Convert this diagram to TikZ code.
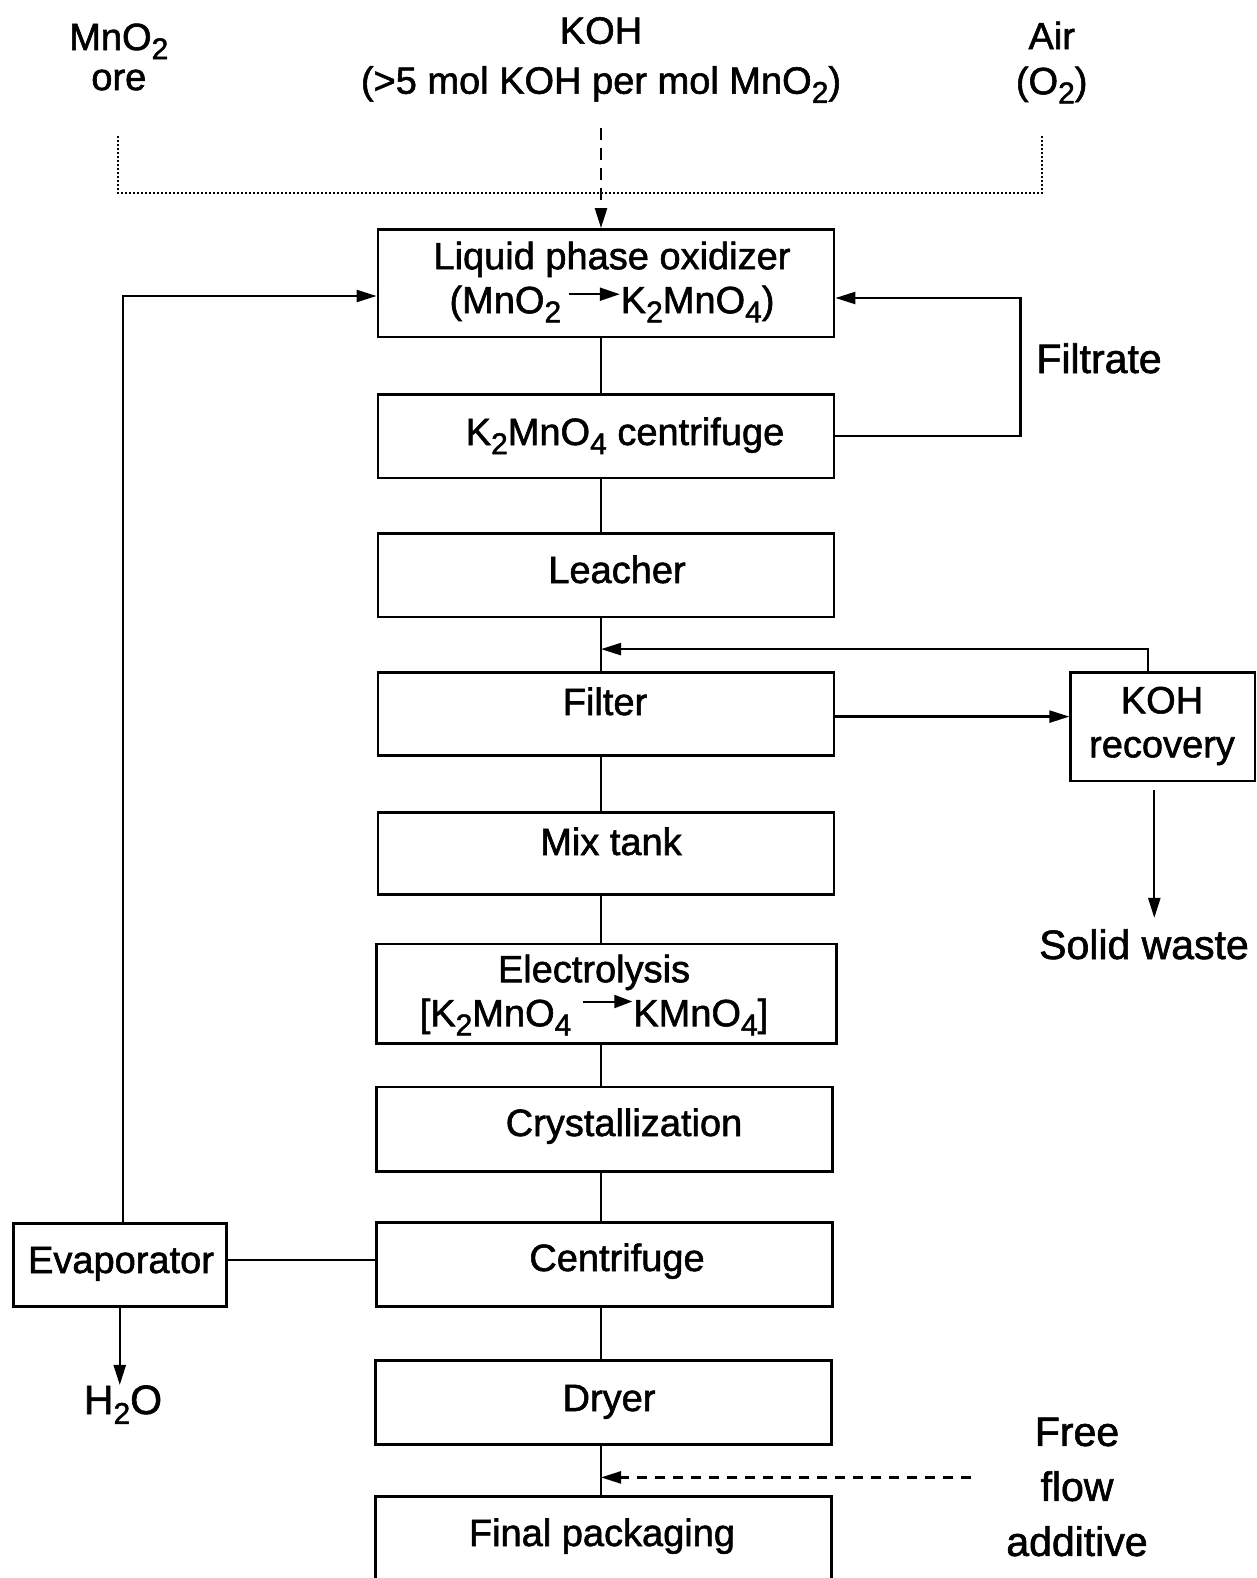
\documentclass[tikz,border=0pt]{standalone}
\usepackage{fontspec}
\setmainfont{Liberation Sans}[FakeBold=1.5]
\usetikzlibrary{arrows.meta,calc,fit}

% chemical subscript
\newcommand\sbs[1]{\raisebox{-0.24em}{\fontsize{15}{15}\selectfont #1}}
% reaction arrow inside a label: #1 length, #2 height above baseline, #3 head length
\newcommand\rxarrow[3]{\tikz[baseline=0pt]\draw[line width=1pt,-{Triangle[length=#3,width=6.5pt]}] (0pt,#2) -- (#1,#2);}

\tikzset{
  box/.style={draw, line width=1.4pt, rectangle, inner sep=0pt},
  lbl/.style={font=\fontsize{19}{22}\selectfont, align=center, inner sep=0pt},
  side/.style={font=\fontsize{20.5}{27.5}\selectfont, align=center, inner sep=0pt},
  flow/.style={line width=1.15pt},
  tip/.style={-{Triangle[length=10pt,width=6pt]}},
  dotline/.style={line width=0.9pt, dash pattern=on 1pt off 1pt},
  dashline/.style={line width=1.15pt, dash pattern=on 6pt off 4pt},
  dashline2/.style={line width=1.15pt, dash pattern=on 5pt off 4pt},
}

\begin{document}
\begin{tikzpicture}[x=0.5pt,y=-0.5pt]
\useasboundingbox (0,0) rectangle (1257,1578);
\clip (0,0) rectangle (1257,1578);
\fill[white] (0,0) rectangle (1257,1578);

% feed labels
\node[lbl] (mno) at (118.8,57) {MnO\sbs{2}\\[-2pt]ore};
\node[lbl] (koh) at (601,60) {KOH\\[3pt](>5 mol KOH per mol MnO\sbs{2})};
\node[lbl] (air) at (1051.7,62.5) {Air\\[0.5pt](O\sbs{2})};

% process boxes
\node[box, fit={(378,229.5) (834,337)}] (ox) {};
\node[box, fit={(378,394.5) (834,478)}] (kc) {};
\node[box, fit={(378,533.4) (834,616.9)}] (le) {};
\node[box, fit={(378,672.3) (834,755.8)}] (fi) {};
\node[box, fit={(378,812.2) (834,894.7)}] (mx) {};
\node[box, fit={(376.4,944) (836.3,1043.6)}] (el) {};
\node[box, fit={(376.4,1086.9) (832.3,1171.4)}] (cr) {};
\node[box, fit={(376.4,1222.8) (832.3,1306.3)}] (ce) {};
\node[box, fit={(375.4,1360.7) (831.3,1444.2)}] (dry) {};
\node[box, fit={(375.4,1496.5) (831.3,1640)}] (fp) {};
\node[box, fit={(1070.8,672.3) (1255,781)}] (kr) {};
\node[box, fit={(13.1,1223.8) (226.4,1306.3)}] (ev) {};

% box texts
\node[lbl] (oxt) at (612,282) {Liquid phase oxidizer\\(MnO\sbs{2}\,\rxarrow{1.35em}{0.5em}{10pt}K\sbs{2}MnO\sbs{4})};
\node[lbl, anchor=base] (kct) at (625,445) {K\sbs{2}MnO\sbs{4} centrifuge};
\node[lbl, anchor=base] (let) at (617,583) {Leacher};
\node[lbl, anchor=base] (fit) at (605,715) {Filter};
\node[lbl, anchor=base] (mxt) at (611,855) {Mix tank};
\node[lbl] (elt) at (594,995) {Electrolysis\\{[}K\sbs{2}MnO\sbs{4} \rxarrow{1.3em}{0.65em}{9pt}KMnO\sbs{4}]};
\node[lbl, anchor=base] (crt) at (624,1136) {Crystallization};
\node[lbl, anchor=base] (cet) at (617,1271) {Centrifuge};
\node[lbl, anchor=base] (dryt) at (609,1411) {Dryer};
\node[lbl, anchor=base] (fpt) at (602,1546) {Final packaging};
\node[lbl] (krt) at (1162,726) {KOH\\recovery};
\node[lbl, anchor=base] (evt) at (121,1273) {Evaporator};

% side labels
\node[side, anchor=base] (filt) at (1099,373) {Filtrate};
\node[side, anchor=base] (sw) at (1144,959) {Solid waste};
\node[side, anchor=base] (h2o) at (123,1414) {H\sbs{2}O};
\node[side] (ff) at (1077,1487) {Free\\flow\\additive};

% helper coordinates
\coordinate (spine) at (601,0);
\coordinate (dl) at (117.8,135.9);
\coordinate (dR) at (1041.6,135.9);
\coordinate (dy) at (0,193.2);
\coordinate (kohs) at (601,127.8);
\coordinate (lx) at (122.8,296);
\coordinate (filx) at (1020.5,298);
\coordinate (fk) at (0,716.6);
\coordinate (kohup) at (1148.3,649.1);
\coordinate (kd) at (1154.3,790);
\coordinate (evy) at (0,1260);
\coordinate (ffs) at (971.2,1477.4);

% feeds
\draw[dotline] (dl) |- (dR |- dy) -- (dR);
\draw[dashline, tip] (kohs) -- (ox.north -| kohs);

% main train
\draw[flow] (ox.south -| spine) -- (kc.north -| spine);
\draw[flow] (kc.south -| spine) -- (le.north -| spine);
\draw[flow] (le.south -| spine) -- (fi.north -| spine);
\draw[flow] (fi.south -| spine) -- (mx.north -| spine);
\draw[flow] (mx.south -| spine) -- (el.north -| spine);
\draw[flow] (el.south -| spine) -- (cr.north -| spine);
\draw[flow] (cr.south -| spine) -- (ce.north -| spine);
\draw[flow] (ce.south -| spine) -- (dry.north -| spine);
\draw[flow] (dry.south -| spine) -- (fp.north -| spine);

% recycle loops
\draw[flow, tip] (kc.east) -- (kc.east -| filx) |- (ox.east |- filx);
\draw[flow, tip] (ev.north -| lx) |- (ox.west |- lx);
\draw[flow, tip] (fi.east |- fk) -- (kr.west |- fk);
\draw[flow, tip] (kr.north -| kohup) |- (spine |- kohup);
\draw[flow, tip] (kd) -- (sw.north -| kd) [shorten >=5.5pt];
\draw[flow] (ce.west |- evy) -- (ev.east |- evy);
\draw[flow, tip] (ev.south) -- (h2o.north -| ev.south);
\draw[dashline2, tip] (ffs) -- (spine |- ffs);
\end{tikzpicture}
\end{document}
